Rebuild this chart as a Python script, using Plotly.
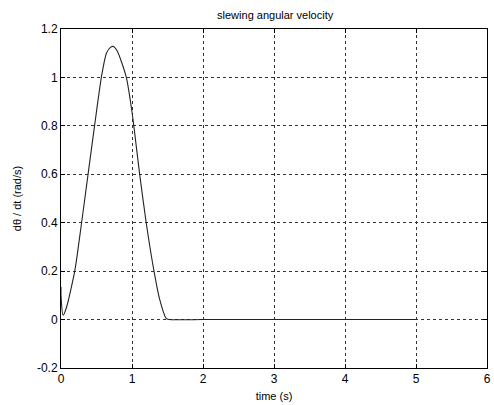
import plotly.graph_objects as go

time_s = [0.0, 0.0, 0.03, 0.08, 0.196, 0.29, 0.383, 0.477, 0.571, 0.64, 0.70, 0.74, 0.79, 0.85, 0.92, 1.005, 1.108, 1.20, 1.31, 1.39, 1.48, 1.52, 2.0, 3.0, 4.0, 5.0]
ang_vel = [0.135, 0.10, 0.018, 0.053, 0.204, 0.40, 0.604, 0.81, 1.005, 1.10, 1.125, 1.128, 1.11, 1.066, 1.0, 0.847, 0.60, 0.40, 0.20, 0.083, 0.005, 0.0, 0.0, 0.0, 0.0, 0.0]

x_ticks = [0, 1, 2, 3, 4, 5, 6]
y_ticks = [-0.2, 0, 0.2, 0.4, 0.6, 0.8, 1, 1.2]
y_tick_text = ["-0.2", "0", "0.2", "0.4", "0.6", "0.8", "1", "1.2"]

fig = go.Figure()
fig.add_trace(go.Scatter(x=time_s, y=ang_vel, mode="lines",
                         line=dict(color="#222222", width=1.1, shape="spline", smoothing=0.6),
                         showlegend=False))

font = dict(family="Liberation Sans, Arial, sans-serif", size=11, color="black")
axis_common = dict(showline=True, linecolor="black", linewidth=1, mirror="ticks",
                   ticks="inside", ticklen=4, tickcolor="black",
                   showgrid=True, gridcolor="#333333", gridwidth=1, griddash="3px,3px",
                   zeroline=False, ticklabeloverflow="allow",
                   tickfont=dict(family="Liberation Sans, Arial, sans-serif", size=12, color="black"))

fig.update_layout(
    width=494, height=405,
    margin=dict(l=61, r=3, t=29, b=37),
    paper_bgcolor="white", plot_bgcolor="white",
    font=font,
    title=dict(text="slewing angular velocity", x=0.557, xanchor="center", y=0.963, yanchor="middle",
               font=dict(family="Liberation Sans, Arial, sans-serif", size=11, color="black")),
    xaxis=dict(range=[0, 6], tickvals=x_ticks, ticktext=[str(v) for v in x_ticks],
               title=dict(text="time (s)", standoff=6, font=font), **axis_common),
    yaxis=dict(range=[-0.2, 1.2], tickvals=y_ticks, ticktext=y_tick_text,
               title=dict(text="dθ / dt (rad/s)", standoff=13, font=font), **axis_common),
)

fig.write_html("out.html")
